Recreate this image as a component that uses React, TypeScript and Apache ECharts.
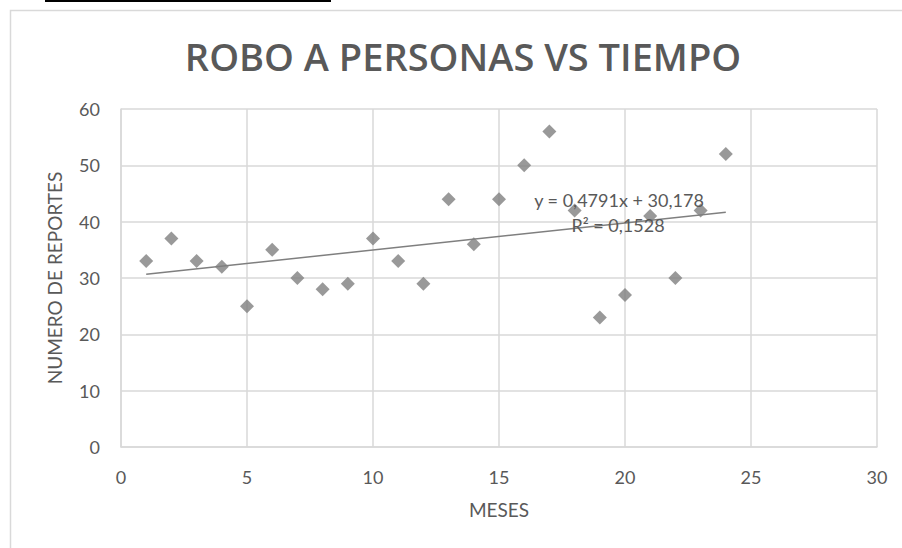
import React, { useEffect, useRef } from "react";
import * as echarts from "echarts";

const months = [1, 2, 3, 4, 5, 6, 7, 8, 9, 10, 11, 12, 13, 14, 15, 16, 17, 18, 19, 20, 21, 22, 23, 24];
const reports = [33, 37, 33, 32, 25, 35, 30, 28, 29, 37, 33, 29, 44, 36, 44, 50, 56, 42, 23, 27, 41, 30, 42, 52];
const trendSlope = 0.4791;
const trendIntercept = 30.178;
const trendRange = [1, 24];
const equationText = "y = 0,4791x + 30,178";
const r2Text = "R² = 0,1528";
const titleText = "ROBO A PERSONAS VS TIEMPO";
const xName = "MESES";
const yName = "NUMERO DE REPORTES";

export default function App() {
  const ref = useRef<HTMLDivElement>(null);
  useEffect(() => {
    if (!ref.current) return;
    const chart = echarts.init(ref.current, null, { renderer: "svg" });
    const points = months.map((m, i) => [m, reports[i]]);
    const trend = trendRange.map((x) => [x, trendSlope * x + trendIntercept]);
    const font = "Lato";
    const txt = "#595959";
    const grid = "#d9d9d9";
    chart.setOption({
      animation: false,
      backgroundColor: "#ffffff",
      title: {
        text: titleText,
        left: 458,
        top: 32,
        textAlign: "center",
        textStyle: { fontFamily: "Open Sans", fontWeight: 600, fontSize: 38, color: txt },
      },
      grid: { left: 121, right: 25, top: 109, bottom: 101 },
      xAxis: {
        type: "value",
        min: 0,
        max: 30,
        interval: 5,
        name: xName,
        nameLocation: "middle",
        nameGap: 53,
        nameTextStyle: { fontFamily: font, fontSize: 19, color: txt },
        axisLine: { show: true, lineStyle: { color: grid, width: 1.5 } },
        axisTick: { show: false },
        axisLabel: { fontFamily: font, fontSize: 18, color: txt, margin: 21 },
        splitLine: { show: true, lineStyle: { color: grid, width: 1.5 } },
      },
      yAxis: {
        type: "value",
        min: 0,
        max: 60,
        interval: 10,
        name: yName,
        nameLocation: "middle",
        nameGap: 57,
        nameRotate: 90,
        nameTextStyle: { fontFamily: font, fontSize: 19, color: txt },
        axisLine: { show: true, lineStyle: { color: grid, width: 1.5 } },
        axisTick: { show: false },
        axisLabel: { fontFamily: font, fontSize: 18, color: txt, margin: 21 },
        splitLine: { show: true, lineStyle: { color: grid, width: 1.5 } },
      },
      graphic: [
        {
          type: "rect",
          shape: { x: 10.5, y: 10.5, width: 1000, height: 1000 },
          style: { fill: "none", stroke: grid, lineWidth: 1.5 },
          silent: true,
          z: -10,
        },
        {
          type: "rect",
          shape: { x: 45, y: 0, width: 286, height: 2 },
          style: { fill: "#000000" },
          silent: true,
        },
        {
          type: "text",
          x: 619,
          y: 200,
          style: { text: equationText, fontFamily: font, fontSize: 18, fill: txt, textAlign: "center", textVerticalAlign: "middle" },
          z: 100,
        },
        {
          type: "text",
          x: 618,
          y: 225,
          style: { text: r2Text, fontFamily: font, fontSize: 18, fill: txt, textAlign: "center", textVerticalAlign: "middle" },
          z: 100,
        },
      ],
      series: [
        {
          type: "scatter",
          data: points,
          symbol: "diamond",
          symbolSize: 14,
          itemStyle: { color: "#7f7f7f" },
          z: 3,
        },
        {
          type: "line",
          data: trend,
          symbol: "none",
          lineStyle: { color: "#7f7f7f", width: 1.5 },
          z: 4,
        },
      ],
    });
    return () => chart.dispose();
  }, []);
  return <div ref={ref} style={{ position: "fixed", left: 0, top: 0, width: 902, height: 548 }} />;
}
